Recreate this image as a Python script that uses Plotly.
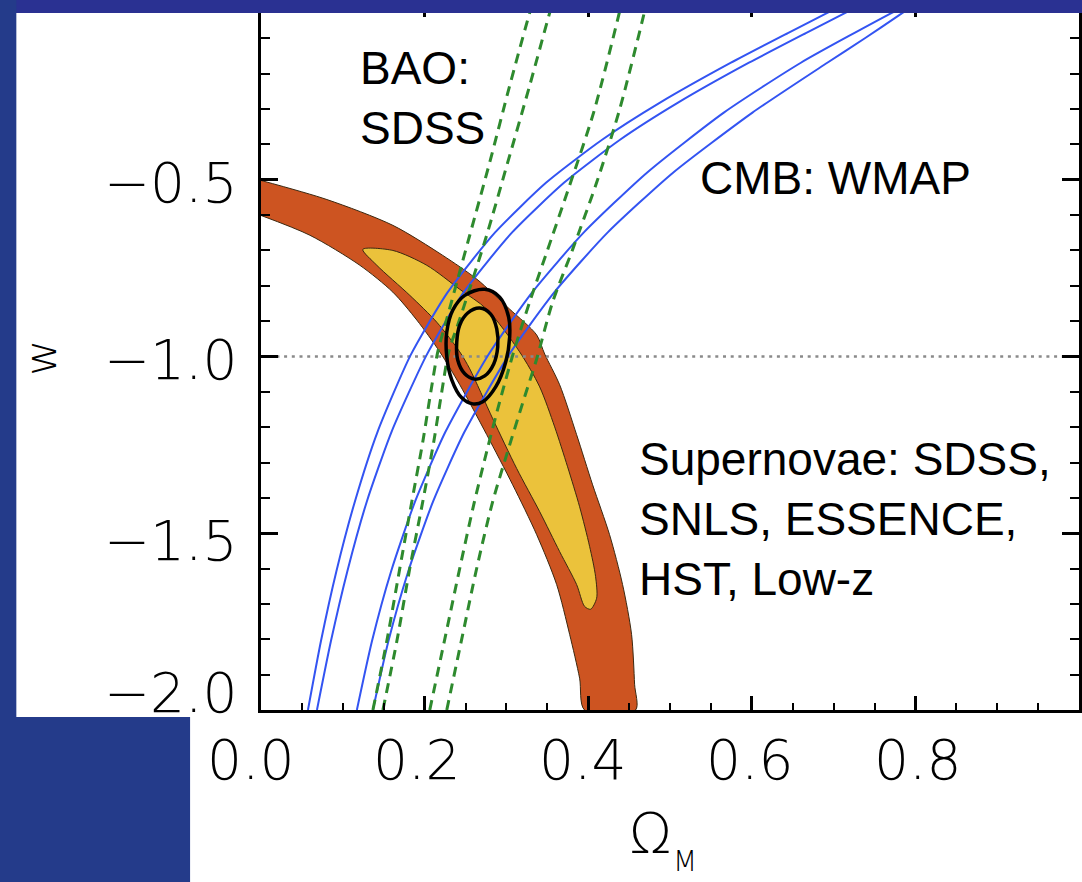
import plotly.graph_objects as go

# ---------------- data (Omega_M, w) ----------------
# Supernovae 2-sigma band: upper edge (left -> bottom) and lower edge (bottom -> left)
sn2_upper_x = [0.0, 0.0806, 0.1612, 0.2222, 0.2637, 0.3040, 0.3370, 0.3468, 0.3651, 0.3858, 0.4054, 0.4261, 0.4420, 0.4530, 0.4567, 0.4579]
sn2_upper_w = [-0.502, -0.556, -0.629, -0.714, -0.781, -0.866, -0.939, -0.993, -1.080, -1.221, -1.363, -1.504, -1.645, -1.786, -1.927, -2.0]
sn2_lower_x = [0.3956, 0.3895, 0.3773, 0.3614, 0.3370, 0.3077, 0.2759, 0.2430, 0.2186, 0.1905, 0.1612, 0.1209, 0.0598, 0.0]
sn2_lower_w = [-2.0, -1.910, -1.786, -1.645, -1.504, -1.363, -1.221, -1.080, -0.987, -0.897, -0.818, -0.742, -0.657, -0.601]

# Supernovae 1-sigma region (closed)
sn1_x = [0.1245, 0.1612, 0.2027, 0.2430, 0.2759, 0.3162, 0.3407, 0.3590, 0.3748, 0.3895, 0.4017, 0.4090, 0.4103, 0.4029,
         0.3956, 0.3858, 0.3651, 0.3407, 0.3126, 0.2833, 0.2552, 0.2430, 0.2149, 0.1819, 0.1416, 0.1245]
sn1_w = [-0.697, -0.700, -0.742, -0.810, -0.866, -0.987, -1.086, -1.199, -1.312, -1.425, -1.537, -1.622, -1.684, -1.715,
         -1.707, -1.645, -1.552, -1.439, -1.317, -1.176, -1.035, -0.987, -0.903, -0.827, -0.742, -0.697]

# CMB (WMAP) contour lines
cmb_ab_w = [-2.0, -1.805, -1.608, -1.410, -1.213, -0.996, -0.818, -0.649, -0.508, -0.387, -0.282, -0.169, -0.085, -0.028, 0.0]
cmb_a_x = [0.0574, 0.0733, 0.0921, 0.1148, 0.1425, 0.1829, 0.2283, 0.2862, 0.3487, 0.4170, 0.4878, 0.5745, 0.6441, 0.6923, 0.7167]
cmb_b_x = [0.0684, 0.0855, 0.1055, 0.1294, 0.1596, 0.2024, 0.2479, 0.3070, 0.3707, 0.4389, 0.5098, 0.5965, 0.6661, 0.7143, 0.7387]
cmb_c_x = [0.1172, 0.1357, 0.1590, 0.1884, 0.2255, 0.2778, 0.3317, 0.3947, 0.4718, 0.5658, 0.6600, 0.7712, 0.7956]
cmb_c_w = [-2.0, -1.805, -1.608, -1.410, -1.213, -0.996, -0.818, -0.649, -0.480, -0.310, -0.169, -0.028, 0.0]
cmb_d_x = [0.1368, 0.1558, 0.1800, 0.2104, 0.2488, 0.3029, 0.3587, 0.4239, 0.5037, 0.6008, 0.6923, 0.7387, 0.7784, 0.8022]
cmb_d_w = [-2.0, -1.805, -1.608, -1.410, -1.213, -0.996, -0.818, -0.649, -0.480, -0.310, -0.169, -0.099, -0.037, 0.0]

# BAO (SDSS) contour lines
bao_12_w = [-2.0, -1.805, -1.599, -1.410, -1.241, -1.100, -0.987, -0.894, -0.781, -0.657, -0.451, -0.234, -0.028, 0.0]
bao_1_x = [0.1368, 0.1538, 0.1697, 0.1844, 0.1978, 0.2076, 0.2161, 0.2271, 0.2405, 0.2552, 0.2796, 0.3040, 0.3284, 0.3321]
bao_2_x = [0.1490, 0.1661, 0.1819, 0.1978, 0.2112, 0.2210, 0.2295, 0.2430, 0.2589, 0.2759, 0.3016, 0.3284, 0.3529, 0.3565]
bao_3_x = [0.2063, 0.2259, 0.2430, 0.2601, 0.2759, 0.2918, 0.3089, 0.3284, 0.3480, 0.3773, 0.4066, 0.4359, 0.4408]
bao_3_w = [-2.0, -1.786, -1.599, -1.419, -1.269, -1.128, -0.987, -0.846, -0.714, -0.516, -0.310, -0.048, 0.0]
bao_4_x = [0.2271, 0.2466, 0.2637, 0.2833, 0.3040, 0.3223, 0.3370, 0.3565, 0.3810, 0.4103, 0.4383, 0.4664, 0.4713]
bao_4_w = [-2.0, -1.786, -1.599, -1.410, -1.250, -1.114, -1.007, -0.846, -0.697, -0.508, -0.302, -0.048, 0.0]

# Combined constraint ellipses
comb2_x = [0.2735, 0.2918, 0.3028, 0.3040, 0.2991, 0.2869, 0.2711, 0.2589, 0.2454, 0.2332, 0.2271, 0.2271, 0.2344, 0.2491, 0.2735]
comb2_w = [-0.810, -0.832, -0.889, -0.945, -1.016, -1.086, -1.128, -1.134, -1.117, -1.066, -1.001, -0.931, -0.869, -0.827, -0.810]
comb1_x = [0.2674, 0.2808, 0.2882, 0.2894, 0.2845, 0.2735, 0.2613, 0.2491, 0.2405, 0.2393, 0.2430, 0.2527, 0.2674]
comb1_w = [-0.863, -0.880, -0.922, -0.973, -1.021, -1.055, -1.064, -1.049, -1.010, -0.959, -0.911, -0.877, -0.863]

# reference line w = -1
lambda_x = [0.0, 1.0]
lambda_w = [-1.0, -1.0]

# axis ticks
x_tickvals = [0.0, 0.2, 0.4, 0.6, 0.8]
x_ticktext = ["0.0", "0.2", "0.4", "0.6", "0.8"]
y_tickvals = [-0.5, -1.0, -1.5, -2.0]
y_ticktext = ["\u22120.5", "\u22121.0", "\u22121.5", "\u22122.0"]

# ---------------- styles ----------------
ORANGE = "#CD5421"
YELLOW = "#EBC23B"
BLUE = "#3354F2"
GREEN = "#2E8A2E"
EDGE = "#3b2810"
BG_BLUE = "#243B8A"
TOP_BLUE = "#2A3192"
LABEL_FONT = dict(family="DejaVu Sans", size=55, color="black", weight=200)
TEXT_FONT = dict(family="Liberation Sans, Arial", size=46, color="black")

fig = go.Figure()

fig.add_trace(go.Scatter(x=sn2_upper_x + sn2_lower_x, y=sn2_upper_w + sn2_lower_w,
                         mode="lines", fill="toself", fillcolor=ORANGE,
                         line=dict(color=EDGE, width=1, shape="spline", smoothing=0.8),
                         hoverinfo="skip", showlegend=False))
fig.add_trace(go.Scatter(x=sn1_x, y=sn1_w, mode="lines", fill="toself", fillcolor=YELLOW,
                         line=dict(color=EDGE, width=1, shape="spline", smoothing=0.8),
                         hoverinfo="skip", showlegend=False))
fig.add_trace(go.Scatter(x=lambda_x, y=lambda_w, mode="lines",
                         line=dict(color="#8a8a8a", width=2.5, dash="3px,4.7px"),
                         hoverinfo="skip", showlegend=False))
for cx, cw in [(cmb_a_x, cmb_ab_w), (cmb_b_x, cmb_ab_w), (cmb_c_x, cmb_c_w), (cmb_d_x, cmb_d_w)]:
    fig.add_trace(go.Scatter(x=cx, y=cw, mode="lines",
                             line=dict(color=BLUE, width=2, shape="spline", smoothing=0.6),
                             hoverinfo="skip", showlegend=False))
for bx, bw in [(bao_1_x, bao_12_w), (bao_2_x, bao_12_w), (bao_3_x, bao_3_w), (bao_4_x, bao_4_w)]:
    fig.add_trace(go.Scatter(x=bx, y=bw, mode="lines",
                             line=dict(color=GREEN, width=3, dash="10px,7px", shape="spline", smoothing=0.8),
                             hoverinfo="skip", showlegend=False))
for ex, ew in [(comb2_x, comb2_w), (comb1_x, comb1_w)]:
    fig.add_trace(go.Scatter(x=ex, y=ew, mode="lines",
                             line=dict(color="black", width=3.5, shape="spline", smoothing=1.0),
                             hoverinfo="skip", showlegend=False))

W, H = 1082, 882
fig.update_layout(
    width=W, height=H, autosize=False,
    margin=dict(l=261, r=2, t=0, b=172, pad=0),
    paper_bgcolor="white", plot_bgcolor="white",
    showlegend=False,
)
fig.update_xaxes(range=[0, 1], showgrid=False, zeroline=False,
                 showline=True, linecolor="black", linewidth=3, mirror="ticks",
                 ticks="inside", ticklen=14, tickwidth=2.5, tickcolor="black",
                 dtick=0.2, tick0=0, showticklabels=False,
                 minor=dict(ticks="inside", ticklen=7, tickwidth=2, dtick=0.05, tickcolor="black"))
fig.update_yaxes(range=[-2, 0], showgrid=False, zeroline=False,
                 showline=True, linecolor="black", linewidth=3, mirror="ticks",
                 ticks="inside", ticklen=17, tickwidth=2.5, tickcolor="black",
                 dtick=0.5, tick0=0, showticklabels=False,
                 minor=dict(ticks="inside", ticklen=9, tickwidth=2, dtick=0.1, tickcolor="black"))

# tick labels (text placed at the tick values)
x_label_shift = [-11, -8, -6, -2, 2]
for v, t, s in zip(x_tickvals, x_ticktext, x_label_shift):
    fig.add_annotation(x=v, xref="x", y=-0.0704, yref="paper", text=t, showarrow=False,
                       xanchor="center", yanchor="middle", xshift=s, font=LABEL_FONT)
y_label_shift = [-3, -3, -8, 17]
for v, t, s in zip(y_tickvals, y_ticktext, y_label_shift):
    fig.add_annotation(x=-0.0256, xref="paper", y=v, yref="y", text=t, showarrow=False,
                       xanchor="right", yanchor="middle", yshift=s, font=LABEL_FONT)

# axis titles
fig.add_annotation(x=-0.2698, xref="paper", y=0.4986, yref="paper", text="w", textangle=-90,
                   showarrow=False, xanchor="center", yanchor="middle",
                   font=dict(family="DejaVu Sans", size=44, color="black", weight=200))
fig.add_annotation(x=0.4762, xref="paper", y=-0.1732, yref="paper", text="\u03a9",
                   showarrow=False, xanchor="center", yanchor="middle",
                   font=dict(family="DejaVu Sans", size=56, color="black", weight=200))
fig.add_annotation(x=0.5183, xref="paper", y=-0.2141, yref="paper", text="M",
                   showarrow=False, xanchor="center", yanchor="middle",
                   font=dict(family="DejaVu Sans", size=28, color="black", weight=200))

# dataset labels
fig.add_annotation(x=0.1184, xref="paper", y=0.8662, yref="paper", text="BAO:<br>SDSS",
                   showarrow=False, xanchor="left", yanchor="middle", align="left", font=TEXT_FONT)
fig.add_annotation(x=0.5348, xref="paper", y=0.7521, yref="paper", text="CMB: WMAP",
                   showarrow=False, xanchor="left", yanchor="middle", align="left", font=TEXT_FONT)
fig.add_annotation(x=0.4591, xref="paper", y=0.2697, yref="paper",
                   text="Supernovae: SDSS,<br>SNLS, ESSENCE,<br>HST, Low-z",
                   showarrow=False, xanchor="left", yanchor="middle", align="left", font=TEXT_FONT)

# slide background pieces (blue frame)
fig.add_shape(type="rect", xref="paper", yref="paper", x0=-0.33, x1=1.01, y0=0.9859, y1=1.02,
              fillcolor=TOP_BLUE, line=dict(width=0), layer="above")
fig.add_shape(type="rect", xref="paper", yref="paper", x0=-0.33, x1=-0.2991, y0=-0.26, y1=1.02,
              fillcolor=BG_BLUE, line=dict(width=0), layer="above")
fig.add_shape(type="rect", xref="paper", yref="paper", x0=-0.33, x1=-0.0867, y0=-0.26, y1=-0.0099,
              fillcolor=BG_BLUE, line=dict(width=0), layer="above")

fig.write_html("out.html", config={"displayModeBar": False},
               post_script="document.body.style.margin='0';document.body.style.overflow='hidden';")
